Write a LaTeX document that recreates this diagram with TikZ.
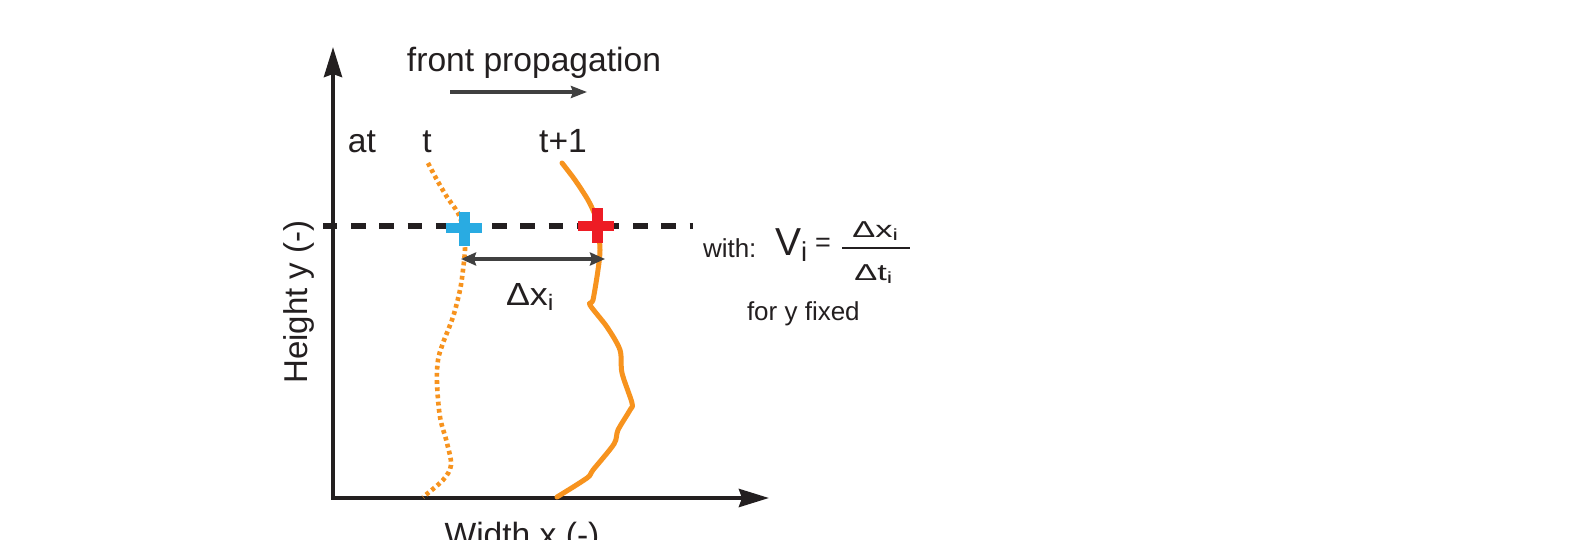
\documentclass[tikz,border=0pt]{standalone}
\usepackage{fontspec}
\setmainfont{Liberation Sans}
\usetikzlibrary{arrows.meta}
\definecolor{ink}{HTML}{231F20}
\definecolor{arrowgray}{HTML}{404040}
\definecolor{frontorange}{HTML}{F7931E}
\definecolor{plusblue}{HTML}{29ABE2}
\definecolor{plusred}{HTML}{ED1C24}
\newcommand{\fsz}[1]{\fontsize{#1}{#1}\selectfont}
\begin{document}
\begin{tikzpicture}[x=0.5pt,y=-0.5pt,
  lbl/.style={inner sep=0pt, outer sep=0pt, text=ink},
  axisline/.style={draw=ink, line width=2pt, {Stealth[length=15pt,width=9pt,inset=1.5pt]}-{Stealth[length=15pt,width=9pt,inset=1.5pt]}},
  levelline/.style={draw=ink, line width=2.6pt, dash pattern=on 7.2pt off 6.9pt},
  gaparrow/.style={draw=arrowgray, line width=1.7pt, {Stealth[length=7.5pt,width=6.5pt,inset=1pt]}-{Stealth[length=7.5pt,width=6.5pt,inset=1pt]}},
  proparrow/.style={draw=arrowgray, line width=1.6pt, -{Stealth[length=8pt,width=6pt,inset=1pt]}},
  frontnow/.style={draw=frontorange, line width=2.3pt, dash pattern=on 1.9pt off 1.7pt},
  frontnext/.style={draw=frontorange, line width=2.5pt, line join=round, line cap=round},
]
\useasboundingbox (0,0) rectangle (1590,540);
\clip (0,0) rectangle (1590,540);
\fill[white] (0,0) rectangle (1590,540);

% axes
\coordinate (O) at (333,498);
\coordinate (ytip) at (333,47);
\coordinate (xtip) at (769,498);
\draw[axisline] (ytip) -- (O) -- (xtip);

% level line
\coordinate (lvA) at (323,226);
\coordinate (lvB) at (693,226);
\draw[levelline] (lvA) -- (lvB);

% fronts
\draw[frontnow] plot[smooth, tension=0.55] coordinates {
 (428,163) (437,180) (447,197) (458,213) (463,228) (465,248) (463,270) (460,290)
 (453,317) (443,343) (438,360) (437,383) (440,417) (447,443) (451,465) (443,480) (423,497)};
\draw[frontnext] plot[smooth, tension=0.5] coordinates {
 (562,163) (575,180) (588,200) (595,215) (598,227) (600,250) (598,270) (593,300)
 (590,305) (607,327) (620,350) (622,373) (632,403) (630,410) (618,430) (614,444)
 (593,470) (587,478) (557,497)};

% plus markers
\fill[plusblue] (446,223) rectangle (482,233);
\fill[plusblue] (459,212) rectangle (470,246);
\fill[plusred] (578,221) rectangle (614,231);
\fill[plusred] (592,208) rectangle (603,243);

% gap arrow
\coordinate (gA) at (461,259);
\coordinate (gB) at (605,259);
\draw[gaparrow] (gA) -- (gB);
\node[lbl, anchor=base west, font=\fsz{16}] (dxlbl) at (506,305) {\scalebox{1.12}[1]{Δx\textsubscript{i}}};

% propagation
\node[lbl, anchor=base, font=\fsz{16.8}] (prop) at (534,72) {front propagation};
\coordinate (pA) at (450,92);
\coordinate (pB) at (587,92);
\draw[proparrow] (pA) -- (pB);

\node[lbl, anchor=base, font=\fsz{16.8}] (at) at (362,153) {at};
\node[lbl, anchor=base, font=\fsz{16.8}] (tnow) at (427,153) {t};
\node[lbl, anchor=base, font=\fsz{16.8}] (tnext) at (563,153) {t+1};

% axis labels
\node[lbl, anchor=base, rotate=90, font=\fsz{16.5}] (ylab) at (307,302) {Height y (-)};
\node[lbl, anchor=base, font=\fsz{16.8}] (xlab) at (522,546) {Width x (-)};

% formula
\node[lbl, anchor=base west, font=\fsz{13}] (with) at (703,257) {with:};
\node[lbl, anchor=base west, font=\fsz{19.5}] (Vi) at (775,255) {V\textsubscript{i}};
\node[lbl, anchor=center, font=\fsz{13.5}] (eq) at (823,245) {=};
\coordinate (bA) at (842,248);
\coordinate (bB) at (910,248);
\draw[ink, line width=0.8pt] (bA) -- (bB);
\node[lbl, anchor=base, font=\fsz{11.5}] (num) at (876,237) {\scalebox{1.5}[1]{Δx\textsubscript{i}}};
\node[lbl, anchor=base, font=\fsz{11.5}] (den) at (874,280) {\scalebox{1.5}[1]{Δt\textsubscript{i}}};
\node[lbl, anchor=base west, font=\fsz{13}] (fixed) at (747,320) {for y fixed};
\end{tikzpicture}
\end{document}
